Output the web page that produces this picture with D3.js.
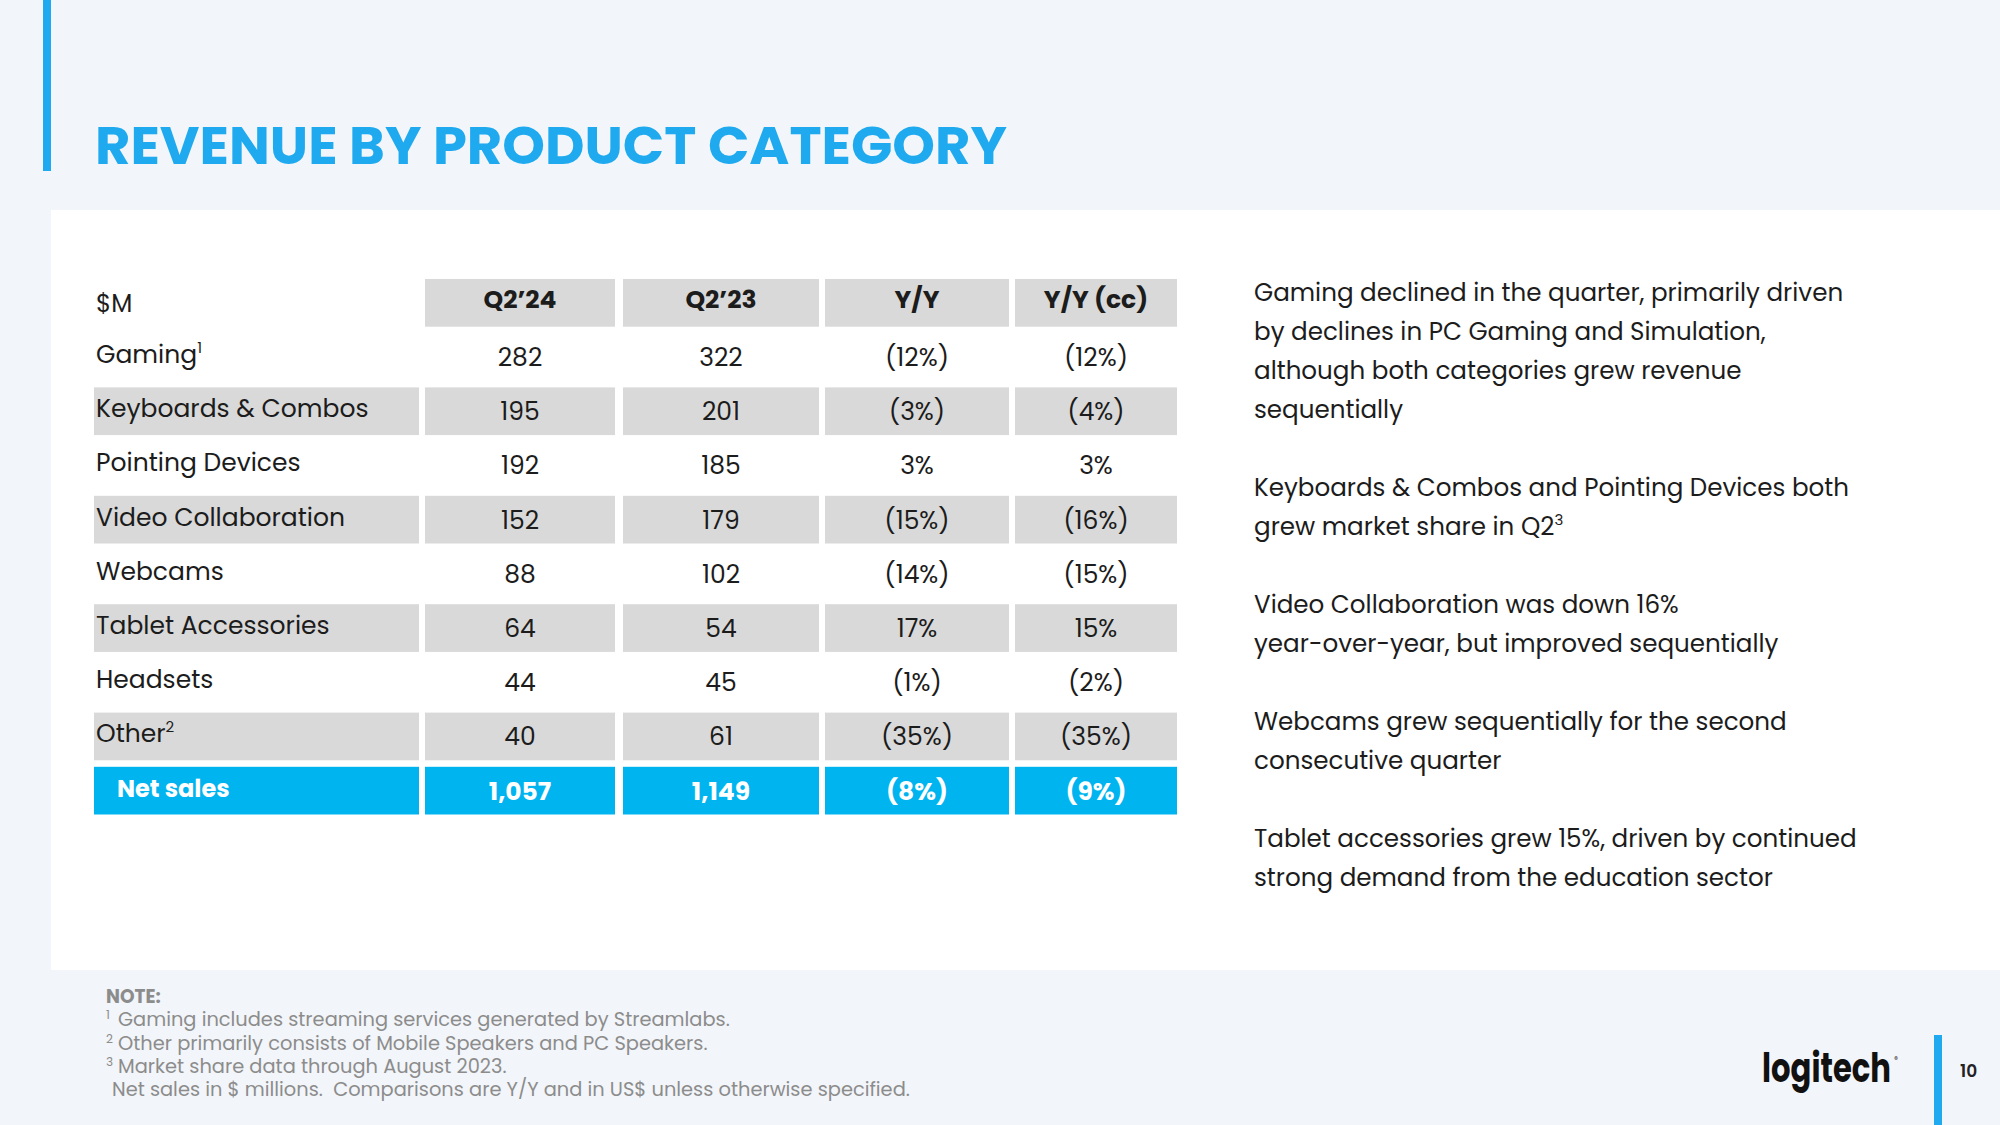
<!DOCTYPE html>
<html><head><meta charset="utf-8">
<script src="https://cdn.jsdelivr.net/npm/d3@7"></script>
<style>
html,body{margin:0;padding:0;background:#f2f5f9;}
svg{display:block;}
text{font-family:"Poppins","Open Sans","Noto Sans",sans-serif;}
</style></head>
<body>
<script>
// ---- data ----
const columns = ["$M", "Q2\u201924", "Q2\u201923", "Y/Y", "Y/Y (cc)"];
const categories = ["Gaming", "Keyboards & Combos", "Pointing Devices", "Video Collaboration", "Webcams", "Tablet Accessories", "Headsets", "Other", "Net sales"];
const footnoteMarks = ["1", "", "", "", "", "", "", "2", ""];
const q2_24 = ["282", "195", "192", "152", "88", "64", "44", "40", "1,057"];
const q2_23 = ["322", "201", "185", "179", "102", "54", "45", "61", "1,149"];
const yoy = ["(12%)", "(3%)", "3%", "(15%)", "(14%)", "17%", "(1%)", "(35%)", "(8%)"];
const yoyCC = ["(12%)", "(4%)", "3%", "(16%)", "(15%)", "15%", "(2%)", "(35%)", "(9%)"];
const commentary = [
  ["Gaming declined in the quarter, primarily driven", "by declines in PC Gaming and Simulation,", "although both categories grew revenue", "sequentially"],
  ["Keyboards & Combos and Pointing Devices both", "grew market share in Q2|3"],
  ["Video Collaboration was down 16%", "year-over-year, but improved sequentially"],
  ["Webcams grew sequentially for the second", "consecutive quarter"],
  ["Tablet accessories grew 15%, driven by continued", "strong demand from the education sector"]
];
const notes = [
  ["", "NOTE:"],
  ["1", "Gaming includes streaming services generated by Streamlabs."],
  ["2", "Other primarily consists of Mobile Speakers and PC Speakers."],
  ["3", "Market share data through August 2023."],
  ["", "Net sales in $ millions.  Comparisons are Y/Y and in US$ unless otherwise specified."]
];

// ---- layout ----
const W = 2000, H = 1125;
const BLUE = "#00b4f0", TITLEBLUE = "#1faaf0", GRAY = "#d9d9d9", INK = "#1c1c1c";
const svg = d3.select("body").append("svg").attr("width", W).attr("height", H);

svg.append("rect").attr("width", W).attr("height", H).attr("fill", "#f2f5f9");
svg.append("rect").attr("x", 51).attr("y", 210).attr("width", W - 51).attr("height", 760).attr("fill", "#ffffff");
svg.append("rect").attr("x", 43).attr("y", 0).attr("width", 8).attr("height", 171).attr("fill", TITLEBLUE);

svg.append("text").attr("x", 95).attr("y", 164)
  .attr("font-size", 53).attr("font-weight", 700).attr("fill", TITLEBLUE)
  .attr("textLength", 912).attr("lengthAdjust", "spacingAndGlyphs")
  .text("REVENUE BY PRODUCT CATEGORY");

// column geometry via scales
const colEdges = [94, 425, 623, 825, 1015];
const colWidths = [325, 190, 196, 184, 162];
const x = d3.scaleOrdinal().domain(columns).range(colEdges);
const xw = d3.scaleOrdinal().domain(columns).range(colWidths);

const rowKeys = ["header"].concat(categories);
const y = d3.scaleBand().domain(rowKeys).range([279, 814.5]).paddingInner(0.12).paddingOuter(0);

const table = svg.append("g");
const shaded = new Set(["Keyboards & Combos", "Video Collaboration", "Tablet Accessories", "Other"]);
const valueCols = [q2_24, q2_23, yoy, yoyCC];

// header cells
columns.slice(1).forEach((c) => {
  table.append("rect").attr("x", x(c)).attr("y", y("header")).attr("width", xw(c)).attr("height", y.bandwidth()).attr("fill", GRAY);
  table.append("text").attr("x", x(c) + xw(c) / 2).attr("y", y("header") + y.bandwidth() / 2 + 5)
    .attr("text-anchor", "middle").attr("font-size", 25).attr("font-weight", 700).attr("fill", INK).text(c);
});
table.append("text").attr("x", 96).attr("y", y("header") + y.bandwidth() / 2 + 9)
  .attr("font-size", 24.5).attr("fill", INK).text(columns[0]);

categories.forEach((cat, i) => {
  const isNet = cat === "Net sales";
  const fill = isNet ? BLUE : (shaded.has(cat) ? GRAY : null);
  const ty = y(cat), bh = y.bandwidth(), cy = ty + bh / 2;
  if (fill) {
    columns.forEach((c) => {
      table.append("rect").attr("x", x(c)).attr("y", ty).attr("width", xw(c)).attr("height", bh).attr("fill", fill);
    });
  }
  const lbl = table.append("text").attr("x", isNet ? 117 : 96).attr("y", cy + 6)
    .attr("font-size", isNet ? 24 : 25).attr("font-weight", isNet ? 700 : 400)
    .attr("fill", isNet ? "#ffffff" : INK);
  lbl.append("tspan").text(cat);
  if (footnoteMarks[i]) lbl.append("tspan").attr("dy", -10).attr("font-size", 15).text(footnoteMarks[i]);
  valueCols.forEach((vals, j) => {
    const c = columns[j + 1];
    table.append("text").attr("x", x(c) + xw(c) / 2).attr("y", cy + 9)
      .attr("text-anchor", "middle").attr("font-size", 25)
      .attr("font-weight", isNet ? 700 : 400).attr("fill", isNet ? "#ffffff" : INK)
      .text(vals[i]);
  });
});

// commentary
const lineH = 39;
let ly = 301;
const com = svg.append("g");
commentary.forEach((para) => {
  para.forEach((line) => {
    const parts = line.split("|");
    const t = com.append("text").attr("x", 1254).attr("y", ly).attr("font-size", 24.6).attr("fill", INK);
    t.append("tspan").text(parts[0]);
    if (parts[1]) t.append("tspan").attr("dy", -10).attr("font-size", 15).text(parts[1]);
    ly += lineH;
  });
  ly += lineH;
});

// notes
const ng = svg.append("g");
notes.forEach((n, i) => {
  const yy = 1003 + i * 23.3;
  if (i === 0) {
    ng.append("text").attr("x", 106).attr("y", yy).attr("font-size", 18.5).attr("font-weight", 700).attr("fill", "#8c8c8c").text(n[1]);
    return;
  }
  if (n[0]) ng.append("text").attr("x", 106).attr("y", yy - 7).attr("font-size", 12).attr("fill", "#8c8c8c").text(n[0]);
  ng.append("text").attr("x", n[0] ? 118 : 112).attr("y", yy).attr("font-size", 19.4).attr("fill", "#8c8c8c")
    .attr("xml:space", "preserve").style("white-space", "pre").text(n[1]);
});

// logo & page number
const logo = svg.append("text").attr("x", 1762).attr("y", 1082).attr("font-size", 40).attr("font-weight", 700).attr("fill", "#111");
logo.append("tspan").attr("textLength", 129).attr("lengthAdjust", "spacingAndGlyphs").text("logitech");
logo.append("tspan").attr("dx", 3).attr("dy", -20).attr("font-size", 8).attr("font-weight", 400).text("\u00AE");
svg.append("rect").attr("x", 1934).attr("y", 1035).attr("width", 8).attr("height", 90).attr("fill", TITLEBLUE);
svg.append("text").attr("x", 1960).attr("y", 1077).attr("font-size", 17).attr("font-weight", 600).attr("fill", "#222").text("10");
</script>
</body></html>
